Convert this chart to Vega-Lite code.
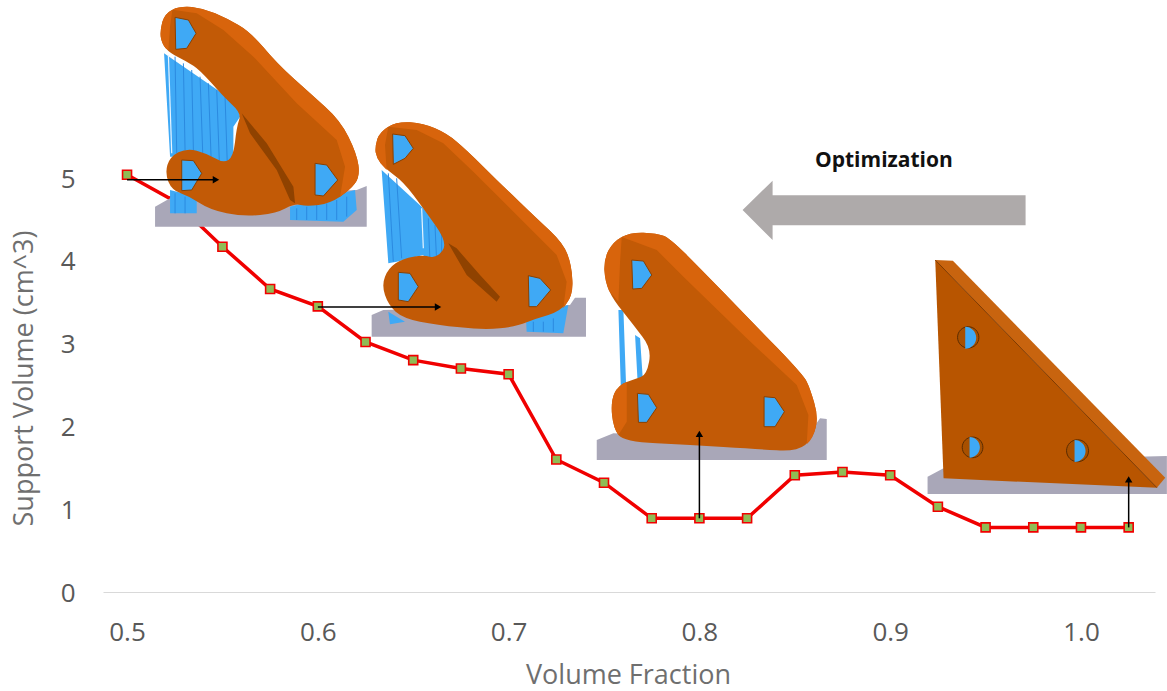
{"$schema":"https://vega.github.io/schema/vega-lite/v6.json","width":1052,"height":592,"autosize":"none","padding":{"left":103,"top":0,"right":12,"bottom":99},"background":"white","config":{"view":{"stroke":null}},
"datasets":{
"series":[{"fraction":0.5,"volume":5.04},{"fraction":0.525,"volume":4.72},{"fraction":0.55,"volume":4.17},{"fraction":0.575,"volume":3.66},{"fraction":0.6,"volume":3.45},{"fraction":0.625,"volume":3.02},{"fraction":0.65,"volume":2.8},{"fraction":0.675,"volume":2.7},{"fraction":0.7,"volume":2.63},{"fraction":0.725,"volume":1.6},{"fraction":0.75,"volume":1.32},{"fraction":0.775,"volume":0.89},{"fraction":0.8,"volume":0.89},{"fraction":0.825,"volume":0.89},{"fraction":0.85,"volume":1.41},{"fraction":0.875,"volume":1.45},{"fraction":0.9,"volume":1.41},{"fraction":0.925,"volume":1.03},{"fraction":0.95,"volume":0.78},{"fraction":0.975,"volume":0.78},{"fraction":1.0,"volume":0.78},{"fraction":1.025,"volume":0.78}],
"b1":[{"fraction":0.4911,"volume":7.15}],
"b2":[{"fraction":0.6221,"volume":5.761}],
"b3":[{"fraction":0.7427,"volume":4.432}],
"b4":[{"fraction":0.914,"volume":4.13}],
"opt":[{"fraction":0.816,"volume":5.459}],
"label":[{"fraction":0.8967,"volume":5.205,"text":"Optimization"}],
"hshaft":[{"fraction":0.5,"volume":4.98,"f2":0.5466,"v2":4.98},{"fraction":0.6,"volume":3.442,"f2":0.663,"v2":3.442}],
"vshaft":[{"fraction":0.8,"volume":0.89,"f2":0.8,"v2":1.9},{"fraction":1.025,"volume":0.78,"f2":1.025,"v2":1.35}],
"hhead":[{"fraction":0.5466,"volume":4.98},{"fraction":0.663,"volume":3.442}],
"vhead":[{"fraction":0.8,"volume":1.91},{"fraction":1.025,"volume":1.36}]
},
"data":{"name":"series"},
"encoding":{
"x":{"field":"fraction","type":"quantitative","scale":{"domain":[0.4874,1.0388],"nice":false,"zero":false},"axis":{"values":[0.5,0.6,0.7,0.8,0.9,1.0],"format":".1f","grid":false,"ticks":false,"domain":true,"domainColor":"#d9d9d9","domainWidth":1,"labelFont":"Open Sans","labelFontSize":26,"labelColor":"#595959","labelPadding":27,"title":"Volume Fraction","titleFont":"Open Sans","titleFontSize":27,"titleFontWeight":"normal","titleColor":"#6f6f6f","titleX":525,"titleY":91,"titleBaseline":"alphabetic"}},
"y":{"field":"volume","type":"quantitative","scale":{"domain":[0,7.15],"nice":false},"axis":{"values":[0,1,2,3,4,5],"format":"d","grid":false,"ticks":false,"domain":false,"labelFont":"Open Sans","labelFontSize":26,"labelColor":"#595959","labelPadding":28,"labelOffset":1,"title":"Support Volume (cm^3)","titleFont":"Open Sans","titleFontSize":27,"titleFontWeight":"normal","titleColor":"#6f6f6f","titleX":-79,"titleY":378,"titleBaseline":"middle"}}
},
"layer":[
{"mark":{"type":"line","color":"#f00000","strokeWidth":3.5}},
{"mark":{"type":"point","shape":"square","size":81,"filled":true,"fill":"#8fbc55","stroke":"#f00000","strokeWidth":1.6,"opacity":1}},

{"data":{"name":"b1"},"mark":{"type":"point","size":0.4444,"filled":true,"opacity":1,"fill":"#a9a7b8","shape":"M135 620 L180 595 L740 570 L770 558 L770 680 L135 680 Z"}},
{"data":{"name":"b1"},"mark":{"type":"point","size":0.4444,"filled":true,"opacity":1,"fill":"#3fa9f5","shape":"M162 160 L380 310 L390 350 L370 380 L370 505 L280 470 L180 470 Z M180 570 L180 640 L260 640 L260 590 Z M540 620 L540 660 L700 665 L740 630 L735 570 Z"}},
{"data":{"name":"b1"},"mark":{"type":"point","size":0.4444,"filled":false,"opacity":1,"stroke":"#2b8ae0","strokeWidth":1,"shape":"M195 170 L200 460 M220 190 L225 450 M245 210 L250 450 M270 230 L278 460 M295 250 L303 470 M320 270 L328 490 M345 290 L352 500 M195 580 L195 640 M225 590 L225 640 M560 625 L560 660 M590 620 L590 660 M620 615 L620 660 M650 610 L650 660 M680 600 L680 660 M710 590 L710 650"}},
{"data":{"name":"b1"},"mark":{"type":"point","size":0.4444,"filled":false,"opacity":1,"stroke":"#e8f4ff","strokeWidth":1.2,"shape":"M175 165 L185 460"}},
{"data":{"name":"b1"},"mark":{"type":"point","size":0.4444,"filled":true,"opacity":1,"fill":"#c25a06","shape":"M152 110 Q150 90 157 65 Q165 40 187 29 Q210 18 245 21 Q280 25 315 40 Q350 55 385 75 Q420 95 460 142 Q500 190 550 235 Q600 280 645 320 Q690 360 715 410 Q740 460 745 495 Q750 530 735 550 Q720 570 690 590 Q660 610 625 615 Q590 620 572 615 Q555 610 527 625 Q500 640 450 645 Q400 650 350 640 Q300 630 270 610 Q240 590 212 580 Q185 570 175 545 Q165 520 172 495 Q180 470 205 457 Q230 445 260 452 Q290 460 315 475 Q340 490 355 480 Q370 470 375 425 Q380 380 387 360 Q395 340 367 315 Q340 290 305 250 Q270 210 250 197 Q230 185 205 172 Q180 160 167 145 Q155 130 152 110 Z"}},
{"data":{"name":"b1"},"mark":{"type":"point","size":0.4444,"filled":true,"opacity":1,"fill":"#d8640c","shape":"M187 29 Q210 18 245 21 Q280 25 315 40 Q350 55 385 75 Q420 95 460 142 Q500 190 550 235 Q600 280 645 320 Q690 360 715 410 Q740 460 745 495 Q750 530 735 550 Q720 570 690 590 L705 500 L680 420 L560 310 L430 170 L340 90 L260 40 Z M152 110 Q150 90 157 65 Q165 40 187 29 L180 80 L175 150 L167 145 Q155 130 152 110 Z"}},
{"data":{"name":"b1"},"mark":{"type":"point","size":0.4444,"filled":true,"opacity":1,"fill":"#8f4200","shape":"M395 340 L470 430 L550 560 L555 610 L540 600 L500 510 L420 400 Z"}},
{"data":{"name":"b1"},"mark":{"type":"point","size":0.4444,"filled":true,"opacity":1,"fill":"#3fa9f5","stroke":"#8a4000","strokeWidth":1,"shape":"M195 52 L235 60 L258 100 L230 145 L197 148 Z M215 480 L250 482 L275 520 L245 570 L215 572 Z M615 490 L650 495 L683 540 L640 588 L615 585 Z"}},

{"data":{"name":"b2"},"mark":{"type":"point","size":0.4444,"filled":true,"opacity":1,"fill":"#a9a7b8","shape":"M35 600 L70 585 L630 570 L645 548 L678 548 L678 665 L35 665 Z"}},
{"data":{"name":"b2"},"mark":{"type":"point","size":0.4444,"filled":true,"opacity":1,"fill":"#3fa9f5","shape":"M65 165 L190 280 L265 370 L240 430 L195 445 L190 420 L110 440 L85 445 Z M85 590 L90 628 L135 620 Z M498 610 L500 650 L610 655 L625 570 Z"}},
{"data":{"name":"b2"},"mark":{"type":"point","size":0.4444,"filled":false,"opacity":1,"stroke":"#2b8ae0","strokeWidth":1,"shape":"M85 175 L100 440 M110 190 L125 430 M205 310 L210 440 M225 330 L230 440 M245 350 L245 430 M520 620 L520 650 M550 620 L550 650 M580 610 L580 650"}},
{"data":{"name":"b2"},"mark":{"type":"point","size":0.4444,"filled":false,"opacity":1,"stroke":"#e8f4ff","strokeWidth":1.2,"shape":"M185 280 L190 400"}},
{"data":{"name":"b2"},"mark":{"type":"point","size":0.4444,"filled":true,"opacity":1,"fill":"#c25a06","shape":"M47 112 Q45 95 52 72 Q60 50 85 35 Q110 20 150 22 Q190 25 225 40 Q260 55 290 80 Q320 105 370 155 Q420 205 475 257 Q530 310 570 347 Q610 385 622 417 Q635 450 637 495 Q640 540 620 565 Q600 590 565 600 Q530 610 500 622 Q470 635 420 640 Q370 645 300 637 Q230 630 180 620 Q130 610 107 590 Q85 570 75 540 Q65 510 75 485 Q85 460 107 445 Q130 430 160 425 Q190 420 210 425 Q230 430 247 407 Q265 385 227 332 Q190 280 160 240 Q130 200 102 180 Q75 160 62 145 Q50 130 47 112 Z"}},
{"data":{"name":"b2"},"mark":{"type":"point","size":0.4444,"filled":true,"opacity":1,"fill":"#d8640c","shape":"M85 35 Q110 20 150 22 Q190 25 225 40 Q260 55 290 80 Q320 105 370 155 Q420 205 475 257 Q530 310 570 347 Q610 385 622 417 Q635 450 637 495 Q640 540 620 565 L610 580 L620 500 L590 420 L470 300 L340 170 L250 85 L170 45 Z M47 112 Q45 95 52 72 Q60 50 85 35 L75 90 L80 165 L62 145 Q50 130 47 112 Z"}},
{"data":{"name":"b2"},"mark":{"type":"point","size":0.4444,"filled":true,"opacity":1,"fill":"#8f4200","shape":"M265 385 L320 480 L410 560 L420 545 L360 480 L290 400 Z"}},
{"data":{"name":"b2"},"mark":{"type":"point","size":0.4444,"filled":true,"opacity":1,"fill":"#3fa9f5","stroke":"#8a4000","strokeWidth":1,"shape":"M98 57 L135 62 L160 100 L135 130 L100 148 Z M115 472 L150 475 L175 515 L145 560 L115 555 Z M505 482 L540 490 L572 525 L530 575 L507 575 Z"}},

{"data":{"name":"b3"},"mark":{"type":"point","size":0.4444,"filled":true,"opacity":1,"fill":"#a9a7b8","shape":"M20 645 L70 625 L640 650 L690 580 L710 582 L710 705 L20 705 Z"}},
{"data":{"name":"b3"},"mark":{"type":"point","size":0.4444,"filled":true,"opacity":1,"fill":"#3fa9f5","shape":"M85 255 L100 255 L108 480 L92 480 Z M135 330 L150 340 L158 460 L142 460 Z"}},
{"data":{"name":"b3"},"mark":{"type":"point","size":0.4444,"filled":true,"opacity":1,"fill":"#c25a06","shape":"M43 135 Q42 100 56 75 Q70 50 95 36 Q120 22 160 23 Q200 25 220 32 Q240 40 285 85 Q330 130 405 207 Q480 285 560 367 Q640 450 650 470 Q660 490 672 532 Q685 575 677 607 Q670 640 645 660 Q620 680 560 676 Q500 672 400 666 Q300 660 200 655 Q100 650 85 630 Q70 610 66 570 Q62 530 73 505 Q85 480 110 471 Q135 462 152 456 Q170 450 177 410 Q185 370 157 335 Q130 300 100 262 Q70 225 57 197 Q45 170 43 135 Z"}},
{"data":{"name":"b3"},"mark":{"type":"point","size":0.4444,"filled":true,"opacity":1,"fill":"#d8640c","shape":"M95 36 Q120 22 160 23 Q200 25 220 32 Q240 40 285 85 Q330 130 405 207 Q480 285 560 367 Q640 450 650 470 Q660 490 672 532 Q685 575 677 607 Q670 640 650 658 L655 570 L620 480 L470 340 L280 155 L200 75 Z M43 135 Q42 100 56 75 Q70 50 95 36 L90 110 L85 230 L57 197 Q45 170 43 135 Z M66 570 Q62 530 73 505 Q85 480 110 471 L110 590 L85 630 Q70 610 66 570 Z"}},
{"data":{"name":"b3"},"mark":{"type":"point","size":0.4444,"filled":true,"opacity":1,"fill":"#3fa9f5","stroke":"#8a4000","strokeWidth":1,"shape":"M125 105 L160 108 L185 150 L155 190 L128 192 Z M142 505 L175 508 L200 548 L170 592 L145 592 Z M522 515 L555 518 L583 560 L555 605 L522 605 Z"}},

{"data":{"name":"b4"},"mark":{"type":"point","size":0.4444,"filled":true,"opacity":1,"fill":"#a9a7b8","shape":"M32 680 L80 655 L660 620 L750 618 L750 732 L32 732 Z"}},
{"data":{"name":"b4"},"mark":{"type":"point","size":0.4444,"filled":true,"opacity":1,"fill":"#b85500","shape":"M55 30 L720 713 L80 685 Z"}},
{"data":{"name":"b4"},"mark":{"type":"point","size":0.4444,"filled":true,"opacity":1,"fill":"#c8640f","shape":"M55 30 L108 32 L745 683 L720 713 Z"}},
{"data":{"name":"b4"},"mark":{"type":"point","size":0.4444,"filled":false,"opacity":1,"stroke":"#7d3a00","strokeWidth":1,"shape":"M55 30 L720 713"}},
{"data":{"name":"b4"},"mark":{"type":"point","size":0.4444,"filled":true,"opacity":1,"fill":"#a85000","stroke":"#5a2c00","strokeWidth":1,"shape":"M122 262 A32 32 0 0 1 186 262 A32 32 0 0 1 122 262 Z M136 592 A31 31 0 0 1 198 592 A31 31 0 0 1 136 592 Z M449 602 A33 33 0 0 1 515 602 A33 33 0 0 1 449 602 Z"}},
{"data":{"name":"b4"},"mark":{"type":"point","size":0.4444,"filled":true,"opacity":1,"fill":"#3fa9f5","shape":"M145 230 A32 32 0 0 1 145 296 Z M158 561 A31 31 0 0 1 158 623 Z M473 570 A33 33 0 0 1 473 636 Z"}},

{"data":{"name":"opt"},"mark":{"type":"point","size":0.4444,"filled":true,"opacity":1,"fill":"#aeaaaa","shape":"M38 210 L128 122 L128 166 L887 166 L887 256 L128 256 L128 300 Z"}},
{"data":{"name":"label"},"mark":{"type":"text","font":"Open Sans","fontWeight":"bold","fontSize":21,"color":"#111111","align":"center","baseline":"middle"},"encoding":{"text":{"field":"text","type":"nominal"}}},

{"data":{"name":"hshaft"},"mark":{"type":"rule","color":"#000000","strokeWidth":1.5},"encoding":{"x2":{"field":"f2"},"y2":{"field":"v2"}}},
{"data":{"name":"vshaft"},"mark":{"type":"rule","color":"#000000","strokeWidth":1.5},"encoding":{"x2":{"field":"f2"},"y2":{"field":"v2"}}},
{"data":{"name":"hhead"},"mark":{"type":"point","shape":"triangle-right","size":55,"filled":true,"fill":"#000000","opacity":1}},
{"data":{"name":"vhead"},"mark":{"type":"point","shape":"triangle-up","size":55,"filled":true,"fill":"#000000","opacity":1}}
]}
